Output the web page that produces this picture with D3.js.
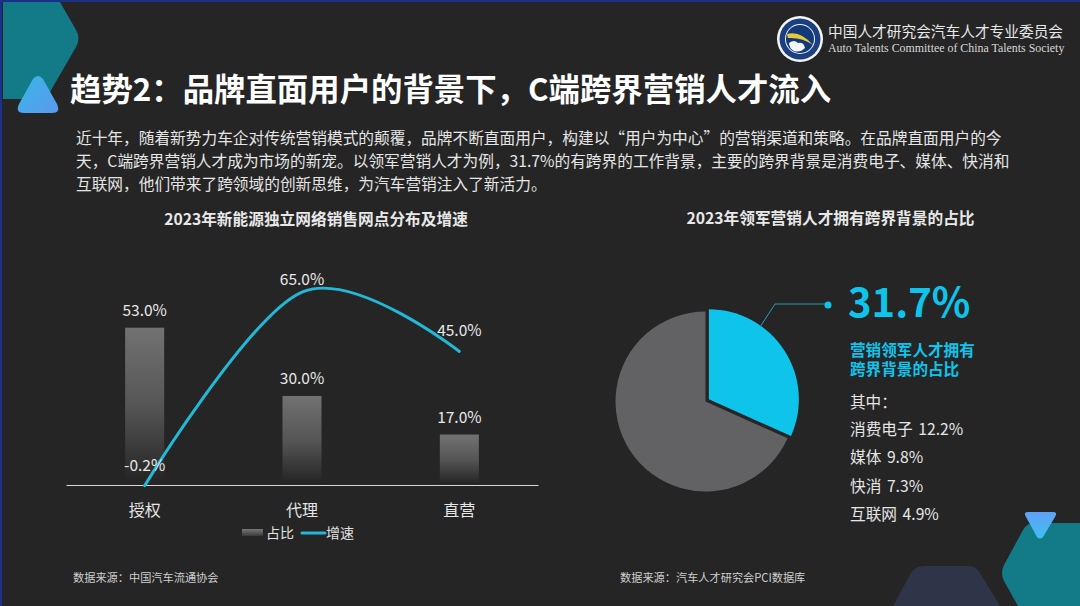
<!DOCTYPE html>
<html>
<head>
<meta charset="utf-8">
<script src="https://cdn.jsdelivr.net/npm/d3@7"></script>
<style>
  html, body { margin: 0; padding: 0; background: #252525; overflow: hidden; }
  text { font-family: "Noto Sans CJK SC", "Noto Sans", sans-serif; }
</style>
</head>
<body>
<script>
// chart data
const categories = ["授权", "代理", "直营"];
const shareValues = [53.0, 30.0, 17.0];
const growthValues = [-0.2, 65.0, 45.0];
const pieLabels = ["跨界", "其他"];
const pieValues = [31.7, 68.3];
const breakdownLabels = ["消费电子", "媒体", "快消", "互联网"];
const breakdownValues = [12.2, 9.8, 7.3, 4.9];

const titleText = "趋势2\uFF1A品牌直面用户的背景下\uFF0CC端跨界营销人才流入";
const introLines = [
    "近十年\uFF0C随着新势力车企对传统营销模式的颠覆\uFF0C品牌不断直面用户\uFF0C构建以“用户为中心”的营销渠道和策略。在品牌直面用户的今",
    "天\uFF0CC端跨界营销人才成为市场的新宠。以领军营销人才为例\uFF0C31.7%的有跨界的工作背景\uFF0C主要的跨界背景是消费电子、媒体、快消和",
    "互联网\uFF0C他们带来了跨领域的创新思维\uFF0C为汽车营销注入了新活力。"
];
const calloutLines = ["营销领军人才拥有", "跨界背景的占比"];

const width = 1080;
const height = 606;
const cyan = "#0fc4ea";
const lineCyan = "#22b8d6";

const svg = d3.select("body").append("svg")
    .attr("width", width)
    .attr("height", height)
    .style("display", "block");

svg.append("rect").attr("width", width).attr("height", height).attr("fill", "#252525");

const defs = svg.append("defs");

function addGradient(id, x1, y1, x2, y2, stops) {
    const g = defs.append("linearGradient").attr("id", id)
        .attr("x1", x1).attr("y1", y1).attr("x2", x2).attr("y2", y2);
    stops.forEach(s => g.append("stop").attr("offset", s[0]).attr("stop-color", s[1]));
}
addGradient("barFill", 0, 0, 0, 1, [[0, "#727272"], [0.5, "#555555"], [0.97, "#252525"]]);
addGradient("legendFill", 0, 0, 0, 1, [[0, "#777777"], [1, "#3a3a3a"]]);
addGradient("triUp", 0, 0, 1, 1, [[0, "#38b8e6"], [1, "#5b98ee"]]);
addGradient("triDown", 0, 0, 0, 1, [[0, "#5fa0f5"], [1, "#3fc0f2"]]);

// page decoration
const deco = svg.append("g");
deco.append("path")
    .attr("d", "M3,2 L60,2 L76,30 Q81,38 76,47 L50,92 Q46,99 38,99 L3,99 Z")
    .attr("fill", "#137a88");
deco.append("path")
    .attr("d", "M33,79 Q38,73 43,79 L57,104 Q61,113 52,113 L24,113 Q15,113 19,104 Z")
    .attr("fill", "url(#triUp)");
deco.append("path")
    .attr("d", "M1080,523 L1034,523 Q1027,523 1023,530 L1004,565 Q1000,573 1004,581 L1018,606 L1080,606 Z")
    .attr("fill", "#137a88");
deco.append("path")
    .attr("d", "M893,606 L911,573 Q915,566 924,566 L968,566 Q976,566 980,573 L1000,606 Z")
    .attr("fill", "#2f3549");
deco.append("path")
    .attr("d", "M1028,512 L1053,512 Q1058,512 1055,517 L1043,537 Q1040,540 1037,537 L1026,517 Q1023,512 1028,512 Z")
    .attr("fill", "url(#triDown)");
deco.append("rect").attr("width", width).attr("height", 2).attr("fill", "#1c2f8a");
deco.append("rect").attr("width", 2).attr("height", height).attr("fill", "#1c2f8a");

// logo
const logo = svg.append("g").attr("transform", "translate(800,39)");
logo.append("circle").attr("r", 23).attr("fill", "#f4f6f8");
logo.append("circle").attr("r", 20.5).attr("fill", "#1b3f80");
logo.append("circle").attr("r", 15).attr("fill", "#f0f3f6");
logo.append("circle").attr("r", 14).attr("fill", "#123a78");
logo.append("path").attr("d", "M-13,-5 Q0,-9 13,6 Q2,-2 -12,-1 Z").attr("fill", "#e8c93a");
logo.append("path").attr("d", "M-11,4 Q-6,0 -2,4 Q4,3 5,9 Q0,14 -6,12 Q-11,9 -11,4 Z").attr("fill", "#f4f6f8");

svg.append("text").attr("x", 828).attr("y", 37)
    .attr("font-size", 14.7).attr("fill", "#e8e8e8")
    .text("中国人才研究会汽车人才专业委员会");
svg.append("text").attr("x", 828).attr("y", 52)
    .attr("font-size", 11.9).attr("fill", "#d8d8d8")
    .style("font-family", "'Liberation Serif', serif")
    .text("Auto Talents Committee of China Talents Society");

// headline and intro
svg.append("text").attr("x", 70).attr("y", 101)
    .attr("font-size", 31.4).attr("font-weight", 700).attr("fill", "#ffffff")
    .text(titleText);

svg.selectAll(".intro").data(introLines).enter().append("text")
    .attr("class", "intro")
    .attr("x", 76)
    .attr("y", (d, i) => 144 + i * 23)
    .attr("font-size", 15.7)
    .attr("fill", "#e6e6e6")
    .text(d => d);

svg.append("text").attr("x", 316).attr("y", 225)
    .attr("text-anchor", "middle").attr("font-size", 15.7).attr("font-weight", 700).attr("fill", "#e8e8e8")
    .text("2023年新能源独立网络销售网点分布及增速");
svg.append("text").attr("x", 830.5).attr("y", 224)
    .attr("text-anchor", "middle").attr("font-size", 15.7).attr("font-weight", 700).attr("fill", "#e8e8e8")
    .text("2023年领军营销人才拥有跨界背景的占比");

// bar + line chart
const xScale = d3.scaleBand()
    .domain(categories)
    .range([66, 538])
    .paddingInner(0.752)
    .paddingOuter(0.376);

const yScale = d3.scaleLinear()
    .domain([0, 53])
    .range([485, 327.7]);

const chart = svg.append("g");

chart.selectAll(".bar").data(categories).enter().append("rect")
    .attr("class", "bar")
    .attr("x", d => xScale(d))
    .attr("y", (d, i) => yScale(shareValues[i]))
    .attr("width", xScale.bandwidth())
    .attr("height", (d, i) => yScale(0) - yScale(shareValues[i]))
    .attr("fill", "url(#barFill)");

const xAxis = chart.append("g")
    .attr("transform", `translate(0, ${yScale(0)})`)
    .call(d3.axisBottom(xScale).tickSize(0).tickPadding(20));
xAxis.select(".domain").attr("stroke", "#d8d8d8").attr("stroke-width", 1.2);
xAxis.selectAll("text")
    .attr("font-size", 16)
    .attr("fill", "#e6e6e6")
    .style("font-family", "'Noto Sans CJK SC', sans-serif");

const growthLine = d3.line()
    .x((d, i) => xScale(categories[i]) + xScale.bandwidth() / 2)
    .y(d => yScale(d))
    .curve(d3.curveCardinal.tension(0));

chart.append("path")
    .attr("d", growthLine(growthValues))
    .attr("fill", "none")
    .attr("stroke", lineCyan)
    .attr("stroke-width", 3)
    .attr("stroke-linecap", "round");

chart.selectAll(".share-label").data(categories).enter().append("text")
    .attr("class", "share-label")
    .attr("x", d => xScale(d) + xScale.bandwidth() / 2)
    .attr("y", (d, i) => yScale(shareValues[i]) - 12)
    .attr("text-anchor", "middle").attr("font-size", 15.5).attr("fill", "#e8e8e8")
    .text((d, i) => shareValues[i].toFixed(1) + "%");

chart.selectAll(".growth-label").data(categories).enter().append("text")
    .attr("class", "growth-label")
    .attr("x", d => xScale(d) + xScale.bandwidth() / 2)
    .attr("y", (d, i) => yScale(growthValues[i]) - (i === 1 ? 7 : 15))
    .attr("text-anchor", "middle").attr("font-size", 15.5).attr("fill", "#e8e8e8")
    .text((d, i) => growthValues[i].toFixed(1) + "%");

// legend
const legend = svg.append("g");
legend.append("rect").attr("x", 242).attr("y", 529).attr("width", 21).attr("height", 7).attr("fill", "url(#legendFill)");
legend.append("text").attr("x", 266).attr("y", 538).attr("font-size", 14).attr("fill", "#e0e0e0").text("占比");
legend.append("line").attr("x1", 302).attr("x2", 325).attr("y1", 533).attr("y2", 533)
    .attr("stroke", lineCyan).attr("stroke-width", 3).attr("stroke-linecap", "round");
legend.append("text").attr("x", 326).attr("y", 538).attr("font-size", 14).attr("fill", "#e0e0e0").text("增速");

// pie
const pie = d3.pie().sort(null).value(d => d);
const arc = d3.arc().innerRadius(0).outerRadius(90);
const pieColors = [cyan, "#626264"];
const pieGroup = svg.append("g").attr("transform", "translate(705.5,401.5)");
pieGroup.selectAll("path").data(pie(pieValues)).enter().append("path")
    .attr("d", arc)
    .attr("fill", (d, i) => pieColors[i])
    .attr("data-label", (d, i) => pieLabels[i])
    .attr("transform", d => {
        if (d.index !== 0) return null;
        const mid = (d.startAngle + d.endAngle) / 2;
        return `translate(${Math.sin(mid) * 4},${-Math.cos(mid) * 4})`;
    });

svg.append("path")
    .attr("d", "M760,327 L775,304 L826,304")
    .attr("fill", "none").attr("stroke", "#2a9db3").attr("stroke-width", 1);
svg.append("circle").attr("cx", 828).attr("cy", 305).attr("r", 3.5).attr("fill", cyan);

// callout
svg.append("text").attr("x", 848).attr("y", 317)
    .attr("font-size", 40).attr("font-weight", 700).attr("fill", cyan)
    .text(pieValues[0].toFixed(1) + "%");
svg.append("text").attr("y", 356)
    .attr("font-size", 15.6).attr("font-weight", 700).attr("fill", cyan)
    .selectAll("tspan").data(calloutLines).enter().append("tspan")
    .attr("x", 850)
    .attr("dy", (d, i) => i === 0 ? 0 : 19)
    .text(d => d);
svg.append("text").attr("x", 850).attr("y", 408)
    .attr("font-size", 15.6).attr("fill", "#e6e6e6").text("其中\uFF1A");

svg.selectAll(".breakdown").data(breakdownLabels).enter().append("text")
    .attr("class", "breakdown")
    .attr("x", 850)
    .attr("y", (d, i) => 435 + i * 28.4)
    .attr("font-size", 15.7)
    .attr("word-spacing", 2)
    .attr("fill", "#e6e6e6")
    .text((d, i) => d + " " + breakdownValues[i].toFixed(1) + "%");

// sources
svg.append("text").attr("x", 73).attr("y", 582).attr("font-size", 11.2).attr("fill", "#cfcfcf").text("数据来源\uFF1A中国汽车流通协会");
svg.append("text").attr("x", 620).attr("y", 582).attr("font-size", 11.2).attr("fill", "#cfcfcf").text("数据来源\uFF1A汽车人才研究会PCI数据库");
</script>
</body>
</html>
